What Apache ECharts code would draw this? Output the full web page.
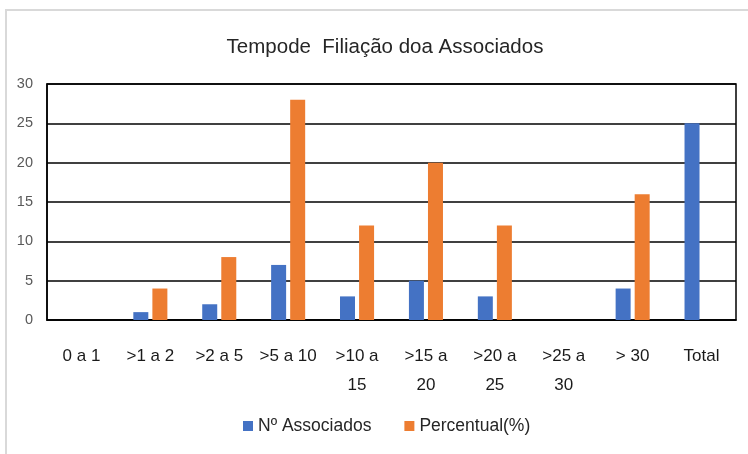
<!DOCTYPE html>
<html>
<head>
<meta charset="utf-8">
<script src="https://cdn.jsdelivr.net/npm/echarts@6/dist/echarts.min.js"></script>
<style>
  html, body { margin: 0; padding: 0; background: #fff; }
  #chart { width: 748px; height: 454px; }
</style>
</head>
<body>
<div id="chart"></div>
<script>
var categories = ['0 a 1', '>1 a 2', '>2 a 5', '>5 a 10', '>10 a\n15', '>15 a\n20', '>20 a\n25', '>25 a\n30', '> 30', 'Total'];
var associados = [0, 1, 2, 7, 3, 5, 3, 0, 4, 25];
var percentual = [0, 4, 8, 28, 12, 20, 12, 0, 16, null];
var yTicks = [0, 5, 10, 15, 20, 25, 30];

var font = '"Liberation Sans", "DejaVu Sans", sans-serif';

var myChart = echarts.init(document.getElementById('chart'));

myChart.setOption({
    animation: false,
    textStyle: { fontFamily: font },
    title: {
        text: 'Tempode  Filiação doa Associados',
        left: 380,
        textAlign: 'center',
        top: 32,
        textStyle: { fontSize: 20.5, fontWeight: 'normal', color: '#262626', fontFamily: font }
    },
    legend: {
        bottom: 14,
        left: 238,
        itemWidth: 10,
        itemHeight: 10,
        itemGap: 33,
        icon: 'rect',
        textStyle: { fontSize: 17.5, color: '#262626', fontFamily: font },
        data: ['Nº Associados', 'Percentual(%)']
    },
    graphic: [{
        type: 'rect',
        shape: { x: 6, y: 10, width: 780, height: 470 },
        style: { fill: 'none', stroke: '#d9d9d9', lineWidth: 2 },
        silent: true
    }],
    grid: {
        left: 47,
        right: 12,
        top: 84,
        bottom: 134,
        show: true,
        borderColor: '#000',
        borderWidth: 1.5
    },
    xAxis: {
        type: 'category',
        data: categories,
        axisLine: { show: true, lineStyle: { color: '#000', width: 1.5 } },
        axisTick: { show: false },
        axisLabel: {
            interval: 0,
            margin: 22,
            fontSize: 17,
            lineHeight: 29,
            color: '#1a1a1a',
            fontFamily: font
        }
    },
    yAxis: {
        type: 'value',
        min: yTicks[0],
        max: yTicks[yTicks.length - 1],
        interval: 5,
        axisLine: { show: true, lineStyle: { color: '#000', width: 1.5 } },
        axisTick: { show: false },
        axisLabel: { fontSize: 14.5, color: '#595959', margin: 14, fontFamily: font },
        splitLine: { lineStyle: { color: '#000', width: 1.5 } }
    },
    series: [{
        name: 'Nº Associados',
        type: 'bar',
        data: associados,
        barWidth: 15,
        barGap: '27%',
        itemStyle: { color: '#4472C4' }
    }, {
        name: 'Percentual(%)',
        type: 'bar',
        data: percentual,
        barWidth: 15,
        barGap: '27%',
        itemStyle: { color: '#ED7D31' }
    }]
});
</script>
</body>
</html>
